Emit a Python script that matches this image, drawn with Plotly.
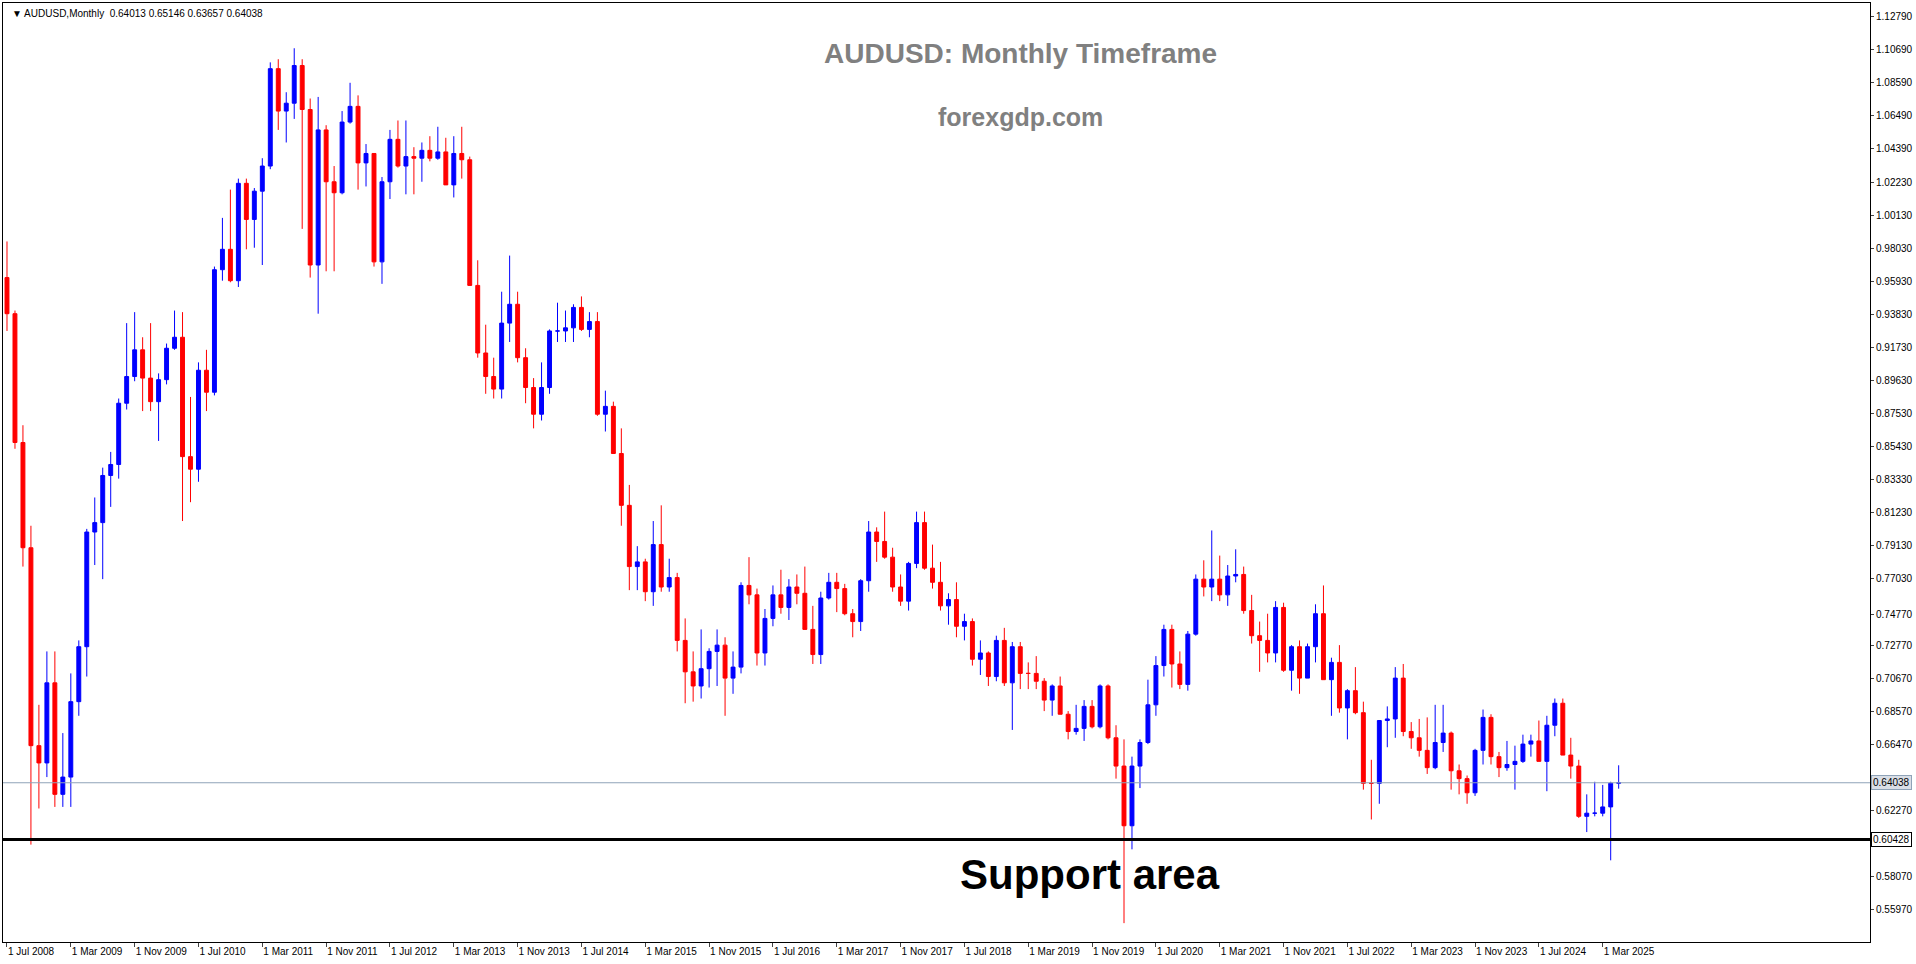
import pandas as pd
import plotly.graph_objects as go

# monthly AUDUSD candles, Jul 2008 .. May 2025
opens = [
    0.9620, 0.9390, 0.8570, 0.7900, 0.6640, 0.6530,
    0.7040, 0.6330, 0.6440, 0.6920, 0.7270, 0.8000, 0.8060, 0.8360, 0.8430, 0.8820, 0.8990, 0.9160,
    0.8980, 0.8830, 0.8970, 0.9170, 0.9240, 0.8480, 0.8400, 0.9030, 0.8890, 0.9670, 0.9800, 0.9600,
    1.0220, 0.9990, 1.0170, 1.0330, 1.0950, 1.0680, 1.0730, 1.0970, 1.0690, 0.9700, 1.0560, 1.0230,
    1.0160, 1.0610, 1.0710, 1.0350, 1.0410, 0.9720, 1.0230, 1.0500, 1.0330, 1.0390, 1.0380, 1.0430,
    1.0380, 1.0420, 1.0210, 1.0410, 1.0370, 0.9570, 0.9140, 0.8990, 0.8910, 0.9330, 0.9450, 0.9110,
    0.8920, 0.8750, 0.8920, 0.9280, 0.9280, 0.9300, 0.9430, 0.9290, 0.9340, 0.8750, 0.8800, 0.8500,
    0.8170, 0.7780, 0.7810, 0.7620, 0.7920, 0.7650, 0.7710, 0.7310, 0.7110, 0.7020, 0.7130, 0.7240,
    0.7280, 0.7070, 0.7140, 0.7660, 0.7600, 0.7230, 0.7450, 0.7600, 0.7520, 0.7650, 0.7610, 0.7380,
    0.7220, 0.7580, 0.7680, 0.7640, 0.7480, 0.7430, 0.7690, 0.8000, 0.7940, 0.7840, 0.7650, 0.7560,
    0.7800, 0.8060, 0.7770, 0.7680, 0.7530, 0.7570, 0.7400, 0.7430, 0.7190, 0.7230, 0.7080, 0.7310,
    0.7040, 0.7270, 0.7100, 0.7100, 0.7050, 0.6930, 0.7020, 0.6840, 0.6730, 0.6750, 0.6890, 0.6760,
    0.7020, 0.6690, 0.6510, 0.6130, 0.6510, 0.6660, 0.6900, 0.7150, 0.7380, 0.7160, 0.7030, 0.7350,
    0.7700, 0.7650, 0.7700, 0.7600, 0.7720, 0.7730, 0.7500, 0.7340, 0.7310, 0.7230, 0.7520, 0.7120,
    0.7270, 0.7070, 0.7270, 0.7480, 0.7060, 0.7170, 0.6880, 0.6990, 0.6850, 0.6400, 0.6400, 0.6800,
    0.6810, 0.7070, 0.6730, 0.6690, 0.6610, 0.6500, 0.6660, 0.6720, 0.6480, 0.6430, 0.6340, 0.6610,
    0.6820, 0.6570, 0.6500, 0.6520, 0.6540, 0.6650, 0.6670, 0.6540, 0.6770, 0.6910, 0.6580, 0.6510,
    0.6190, 0.6210, 0.6210, 0.6250, 0.6401,
]
highs = [
    0.9850, 0.9410, 0.8680, 0.8040, 0.6900, 0.7240,
    0.7240, 0.6720, 0.7100, 0.7310, 0.8020, 0.8220, 0.8410, 0.8510, 0.8850, 0.9330, 0.9400, 0.9240,
    0.9330, 0.9010, 0.9200, 0.9410, 0.9400, 0.8860, 0.9080, 0.9160, 0.9690, 1.0000, 1.0180, 1.0250,
    1.0250, 1.0190, 1.0380, 1.0990, 1.1010, 1.0800, 1.1080, 1.1010, 1.0760, 1.0770, 1.0590, 1.0330,
    1.0680, 1.0860, 1.0780, 1.0470, 1.0410, 1.0260, 1.0560, 1.0620, 1.0620, 1.0450, 1.0480, 1.0520,
    1.0580, 1.0510, 1.0520, 1.0580, 1.0390, 0.9730, 0.9320, 0.9110, 0.9530, 0.9760, 0.9530, 0.9170,
    0.8980, 0.9080, 0.9290, 0.9460, 0.9410, 0.9450, 0.9500, 0.9400, 0.9400, 0.8900, 0.8830, 0.8660,
    0.8300, 0.7910, 0.7830, 0.8070, 0.8170, 0.7830, 0.7740, 0.7450, 0.7240, 0.7380, 0.7260, 0.7380,
    0.7330, 0.7240, 0.7680, 0.7840, 0.7640, 0.7510, 0.7660, 0.7760, 0.7700, 0.7730, 0.7780, 0.7530,
    0.7620, 0.7740, 0.7740, 0.7670, 0.7510, 0.7700, 0.8070, 0.8030, 0.8130, 0.7900, 0.7730, 0.7810,
    0.8130, 0.8130, 0.7920, 0.7810, 0.7610, 0.7680, 0.7480, 0.7450, 0.7310, 0.7240, 0.7340, 0.7390,
    0.7300, 0.7300, 0.7170, 0.7210, 0.7070, 0.7030, 0.7080, 0.6860, 0.6900, 0.6930, 0.6930, 0.7030,
    0.7030, 0.6770, 0.6680, 0.6570, 0.6680, 0.7060, 0.7210, 0.7410, 0.7410, 0.7240, 0.7370, 0.7730,
    0.7820, 0.8010, 0.7850, 0.7790, 0.7890, 0.7780, 0.7600, 0.7430, 0.7480, 0.7560, 0.7550, 0.7280,
    0.7310, 0.7290, 0.7540, 0.7660, 0.7200, 0.7280, 0.7000, 0.7140, 0.6920, 0.6550, 0.6800, 0.6890,
    0.7140, 0.7160, 0.6790, 0.6810, 0.6820, 0.6900, 0.6900, 0.6730, 0.6520, 0.6450, 0.6620, 0.6870,
    0.6840, 0.6600, 0.6670, 0.6640, 0.6710, 0.6710, 0.6800, 0.6830, 0.6940, 0.6940, 0.6690, 0.6550,
    0.6330, 0.6410, 0.6390, 0.6410, 0.6515,
]
lows = [
    0.9280, 0.8530, 0.7780, 0.6010, 0.6240, 0.6440,
    0.6250, 0.6250, 0.6250, 0.6830, 0.7080, 0.7790, 0.7700, 0.8160, 0.8340, 0.8780, 0.8960, 0.8770,
    0.8770, 0.8580, 0.8940, 0.9160, 0.8070, 0.8190, 0.8320, 0.8770, 0.8870, 0.9600, 0.9590, 0.9560,
    0.9800, 0.9810, 0.9700, 1.0310, 1.0560, 1.0480, 1.0630, 0.9930, 0.9620, 0.9390, 0.9660, 0.9660,
    1.0150, 1.0600, 1.0180, 1.0200, 0.9690, 0.9580, 1.0120, 1.0320, 1.0150, 1.0150, 1.0230, 1.0360,
    1.0370, 1.0220, 1.0130, 1.0250, 0.9580, 0.9110, 0.8880, 0.8850, 0.8850, 0.9210, 0.9080, 0.8820,
    0.8660, 0.8710, 0.8880, 0.9210, 0.9210, 0.9210, 0.9280, 0.9240, 0.8740, 0.8640, 0.8500, 0.8040,
    0.7630, 0.7630, 0.7560, 0.7530, 0.7620, 0.7620, 0.7240, 0.6910, 0.6920, 0.6940, 0.7010, 0.7020,
    0.6830, 0.6970, 0.7100, 0.7540, 0.7150, 0.7150, 0.7400, 0.7480, 0.7440, 0.7540, 0.7380, 0.7160,
    0.7160, 0.7570, 0.7490, 0.7470, 0.7330, 0.7370, 0.7620, 0.7810, 0.7830, 0.7620, 0.7530, 0.7500,
    0.7770, 0.7760, 0.7640, 0.7500, 0.7410, 0.7330, 0.7310, 0.7150, 0.7090, 0.7020, 0.7050, 0.7020,
    0.6740, 0.7000, 0.7000, 0.7000, 0.6860, 0.6830, 0.6840, 0.6680, 0.6710, 0.6670, 0.6750, 0.6750,
    0.6680, 0.6430, 0.5510, 0.5980, 0.6370, 0.6650, 0.6830, 0.7080, 0.7010, 0.7000, 0.6990, 0.7340,
    0.7590, 0.7560, 0.7560, 0.7530, 0.7680, 0.7480, 0.7290, 0.7110, 0.7170, 0.7170, 0.7110, 0.6990,
    0.6970, 0.7070, 0.7170, 0.7060, 0.6830, 0.6850, 0.6680, 0.6840, 0.6360, 0.6170, 0.6270, 0.6630,
    0.6690, 0.6700, 0.6620, 0.6570, 0.6460, 0.6490, 0.6600, 0.6360, 0.6330, 0.6270, 0.6320, 0.6520,
    0.6520, 0.6440, 0.6480, 0.6360, 0.6530, 0.6570, 0.6540, 0.6350, 0.6700, 0.6580, 0.6430, 0.6180,
    0.6090, 0.6190, 0.6190, 0.5910, 0.6366,
]
closes = opens[1:] + [0.64038]

y_ticks = [1.12790, 1.10690, 1.08590, 1.06490, 1.04390, 1.02230, 1.00130, 0.98030, 0.95930,
           0.93830, 0.91730, 0.89630, 0.87530, 0.85430, 0.83330, 0.81230, 0.79130, 0.77030,
           0.74770, 0.72770, 0.70670, 0.68570, 0.66470, 0.62270, 0.58070, 0.55970, 0.53870]
last_price = 0.64038
support = 0.60428

months = pd.date_range("2008-07-01", periods=len(opens), freq="MS")
idx = list(range(len(months)))
tick_idx = idx[::8]
tick_text = [months[i].strftime("1 %b %Y") for i in tick_idx]

fig = go.Figure(go.Candlestick(
    x=idx, open=opens, high=highs, low=lows, close=closes,
    increasing=dict(line=dict(color="#0000ff", width=1), fillcolor="#0000ff"),
    decreasing=dict(line=dict(color="#ff0000", width=1), fillcolor="#ff0000"),
    whiskerwidth=0, showlegend=False, hoverinfo="skip",
))

fig.add_hline(y=last_price, line=dict(color="#8fa3b8", width=1))
fig.add_hline(y=support, line=dict(color="black", width=3))

font = "Liberation Sans, Arial, sans-serif"
top_m, bot_m = 3, 22
plot_h = 964 - top_m - bot_m


def py(pix):
    # pixel row in the page -> paper y
    return 1 - (pix - top_m) / plot_h


fig.add_annotation(x=1, xref="paper", y=last_price, yref="y", text="0.64038", showarrow=False,
                   xanchor="left", xshift=1, font=dict(size=10, color="black", family=font),
                   bgcolor="#d9dee6", bordercolor="#8fa3b8", borderwidth=1, borderpad=1)
fig.add_annotation(x=1, xref="paper", y=support, yref="y", text="0.60428", showarrow=False,
                   xanchor="left", xshift=1, font=dict(size=10, color="black", family=font),
                   bgcolor="white", bordercolor="black", borderwidth=1, borderpad=1)
fig.add_annotation(x=0.545, xref="paper", y=py(36), yref="paper", text="<b>AUDUSD: Monthly Timeframe</b>",
                   showarrow=False, font=dict(size=28, color="#808080", family="Arial, Liberation Sans"))
fig.add_annotation(x=0.545, xref="paper", y=py(101), yref="paper", text="<b>forexgdp.com</b>",
                   showarrow=False, font=dict(size=25, color="#808080", family="Arial, Liberation Sans"))
fig.add_annotation(x=0.582, xref="paper", y=py(900), yref="paper", text="<b>Support area</b>",
                   showarrow=False, font=dict(size=42, color="black", family="Liberation Sans Narrow, Arial Narrow, Arial"))
fig.add_annotation(x=0.004, xref="paper", y=1, yref="paper", yanchor="top", yshift=-3, xanchor="left",
                   text="▼ AUDUSD,Monthly  0.64013 0.65146 0.63657 0.64038", showarrow=False,
                   font=dict(size=10, color="black", family=font))

fig.update_layout(
    width=1916, height=964, paper_bgcolor="white", plot_bgcolor="white",
    margin=dict(l=3, r=46, t=top_m, b=bot_m, autoexpand=False),
    xaxis=dict(range=[-0.5, 233.5], tickvals=tick_idx, ticktext=tick_text, ticks="outside",
               ticklen=4, tickangle=0, showgrid=False, zeroline=False, rangeslider=dict(visible=False),
               showline=True, linecolor="black", mirror=True, linewidth=1, automargin=False,
               tickfont=dict(size=10, family=font, color="black"), ticklabelposition="outside right"),
    yaxis=dict(range=[0.5390, 1.1368], side="right", tickvals=y_ticks,
               ticktext=[f"{v:.5f}" for v in y_ticks], ticks="outside", ticklen=3,
               showgrid=False, zeroline=False, showline=True, linecolor="black", mirror=True,
               linewidth=1, automargin=False, tickfont=dict(size=10, family=font, color="black")),
)

# drop the page's default body margin so the figure fills the window
fig.write_html("out.html", config={"displayModeBar": False},
               post_script="document.body.style.margin='0';document.body.style.overflow='hidden';")
